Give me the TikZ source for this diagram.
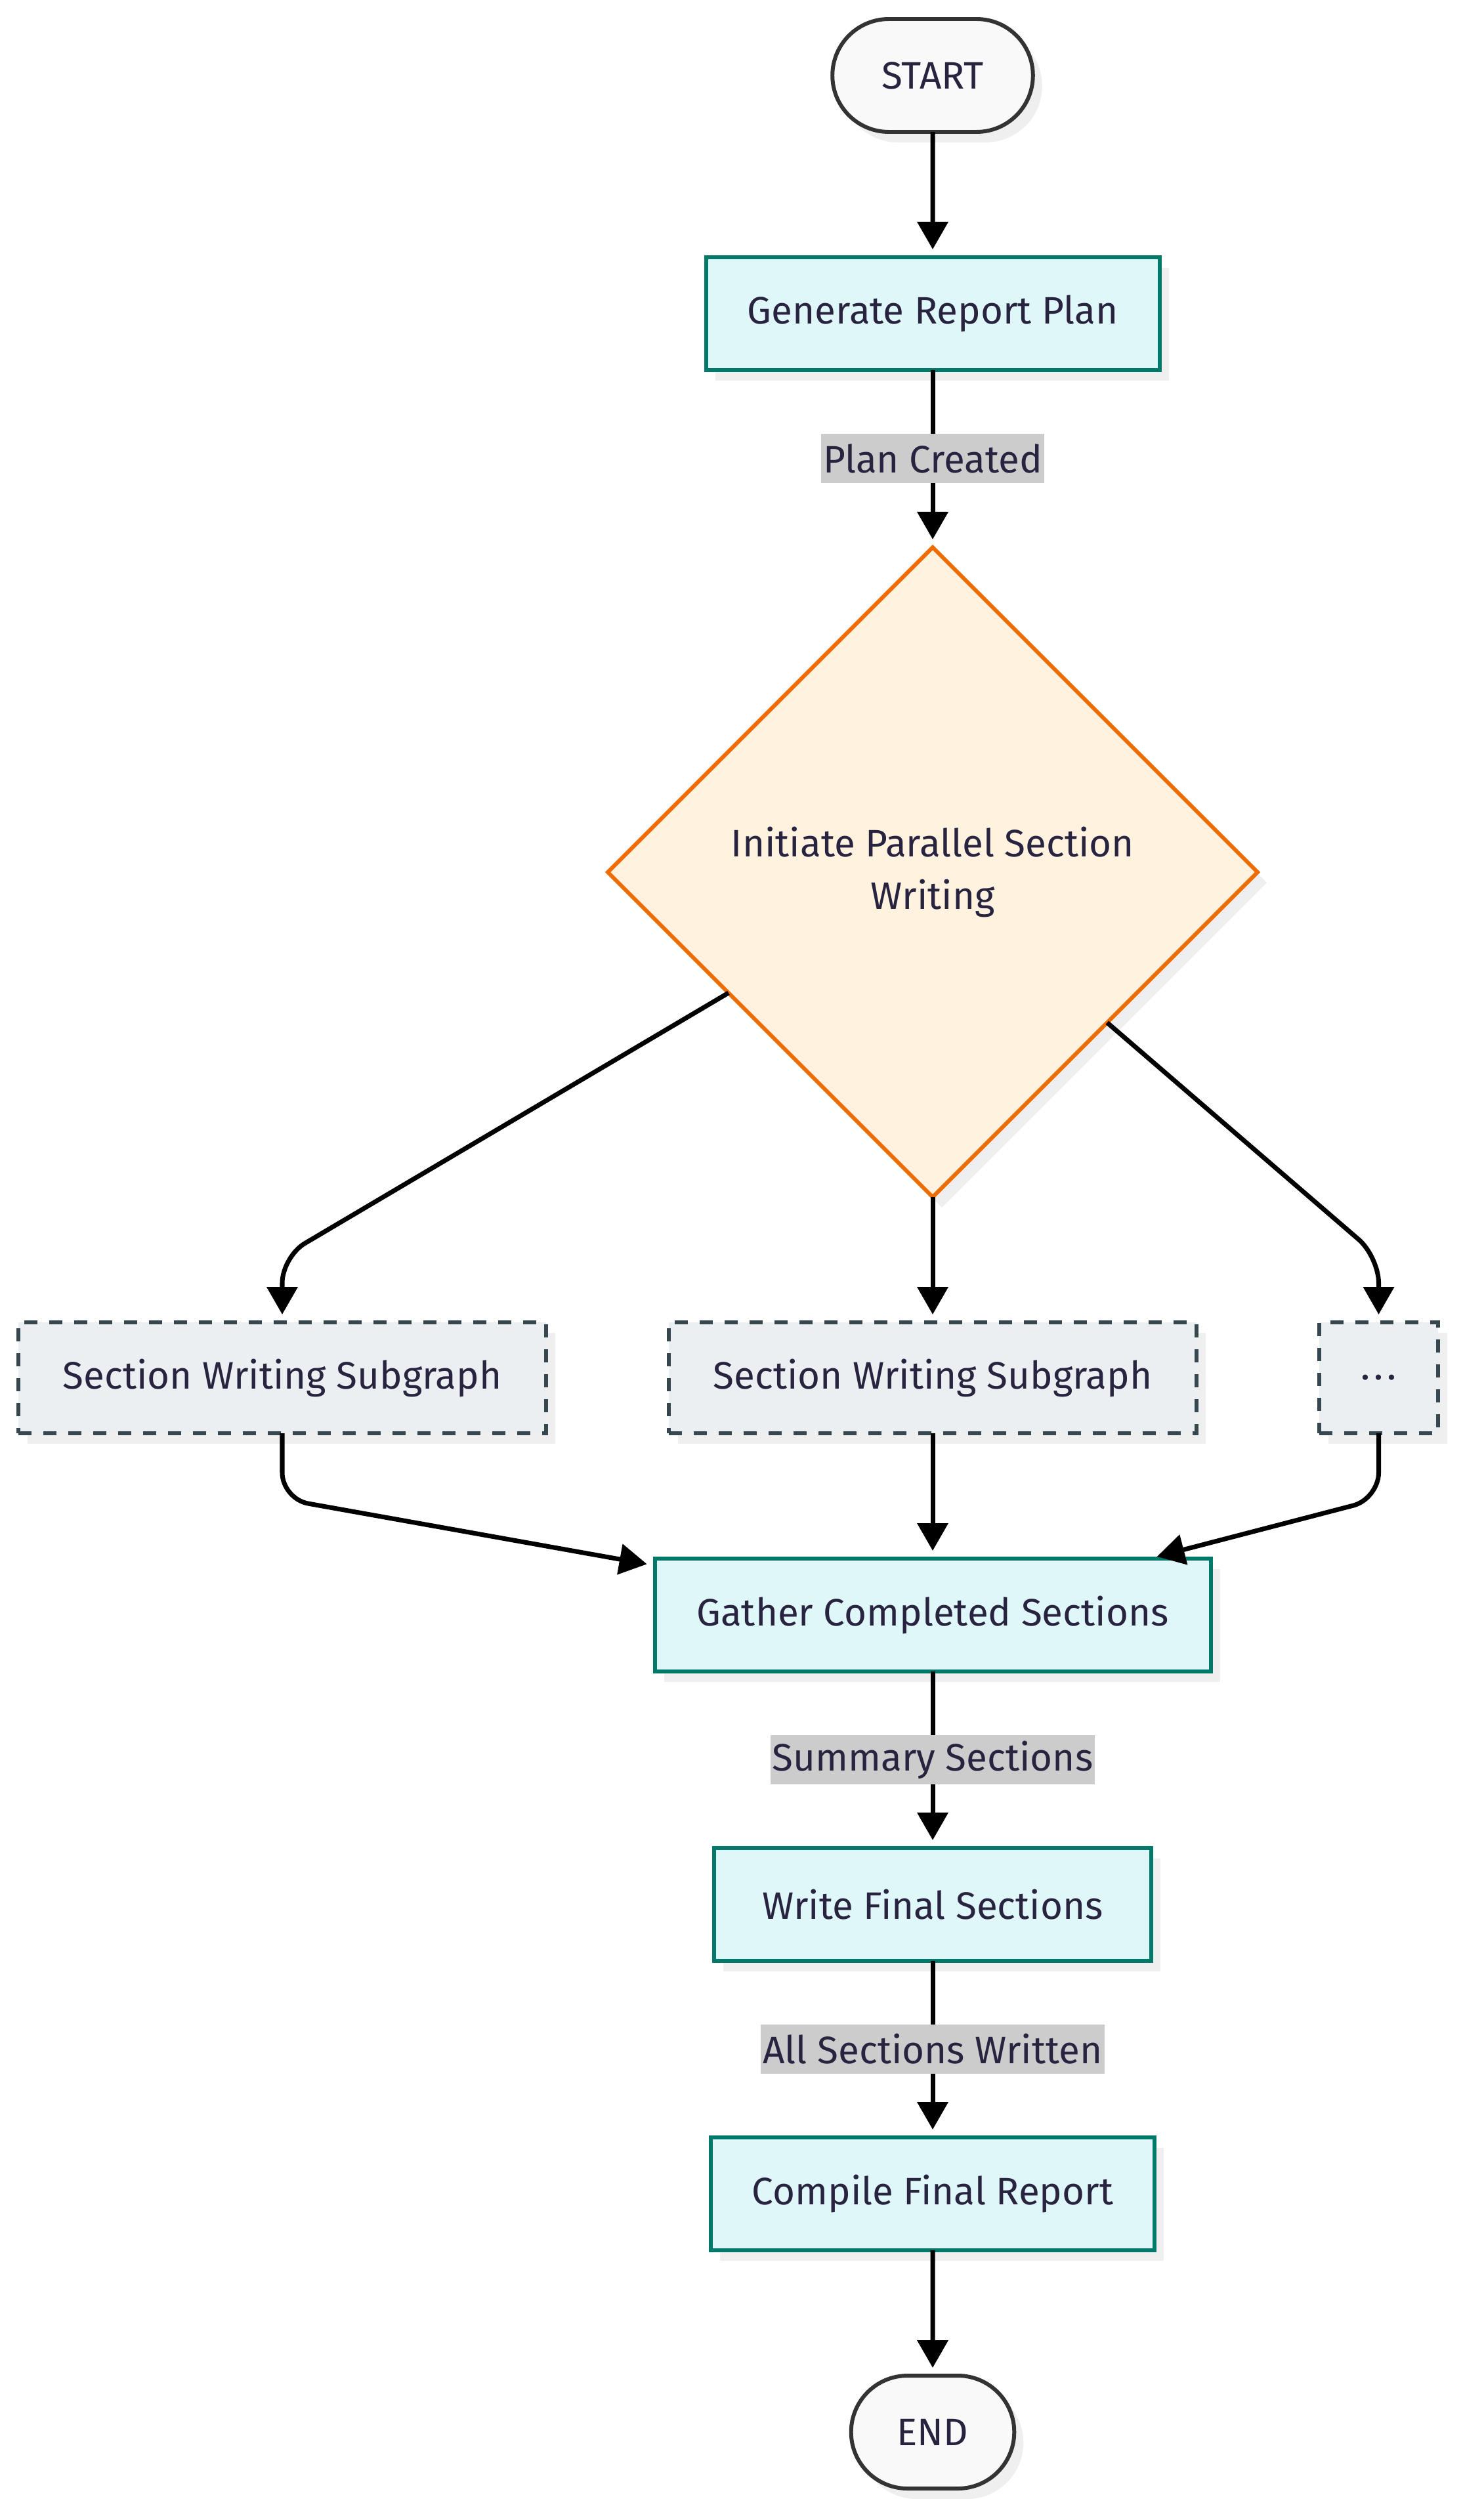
\documentclass[tikz,border=0pt]{standalone}
\usepackage{fontspec}
\setmainfont{Fira Sans}
\usepackage{tikz}
\usetikzlibrary{calc,positioning,shapes,shadows,arrows.meta}
\definecolor{ink}{HTML}{28233F}
\definecolor{termline}{HTML}{333333}
\definecolor{termfill}{HTML}{F9F9F9}
\definecolor{taskline}{HTML}{00796B}
\definecolor{taskfill}{HTML}{E0F7FA}
\definecolor{decline}{HTML}{EF6C00}
\definecolor{decfill}{HTML}{FFF3E0}
\definecolor{subline}{HTML}{37474F}
\definecolor{subfill}{HTML}{ECEFF1}
\definecolor{lblgray}{HTML}{CCCCCC}
\definecolor{shadowgray}{HTML}{EFEFEF}

\begin{document}
\begin{tikzpicture}[font=\fontsize{16.6}{23}\selectfont,text=ink,
		shadowed/.style={drop shadow={fill=shadowgray,opacity=1,shadow xshift=0.14cm,shadow yshift=-0.16cm}},
		term/.style={shape=rounded rectangle,draw=termline,fill=termfill,line width=1.7pt,outer sep=0pt,minimum height=1.72cm,shadowed},
		task/.style={shape=rectangle,draw=taskline,fill=taskfill,line width=1.7pt,outer sep=0pt,minimum height=1.72cm,shadowed},
		sub/.style={shape=rectangle,draw=subline,fill=subfill,line width=1.7pt,outer sep=0pt,dash pattern=on 0.2cm off 0.18cm,minimum height=1.69cm,shadowed},
		flow/.style={line width=2pt,-{Triangle[width=0.46cm,length=0.42cm]},shorten >=0.12cm},
		lbl/.style={fill=lblgray,inner xsep=0.03cm,inner ysep=0pt,minimum height=0.75cm}]
		\useasboundingbox (0,0) rectangle (22.29,-38.40);
		\node(start) at (14.21,-1.15) [term,minimum width=3.29cm] {START};
		\node(plan) [below=1.91 of start,task,minimum width=6.91cm] {Generate Report Plan};
		\node(init) [below=2.70 of plan,shape=diamond,draw=decline,fill=decfill,line width=1.7pt,outer sep=0pt,minimum width=9.9cm,minimum height=9.9cm,align=center,shadowed] {Initiate Parallel Section\\Writing};
		\node(s2) [below=1.91 of init,sub,minimum width=8.04cm] {Section Writing Subgraph};
		\node(s1) [left=1.87 of s2,sub,minimum width=8.04cm] {Section Writing Subgraph};
		\node(dots) [right=1.87 of s2,sub,minimum width=1.81cm] {.\hspace{0.1em}.\hspace{0.1em}.};
		\node(gather) [below=1.91 of s2,task,minimum width=8.47cm] {Gather Completed Sections};
		\node(write) [below=2.69 of gather,task,minimum width=6.66cm] {Write Final Sections};
		\node(compile) [below=2.69 of write,task,minimum width=6.76cm] {Compile Final Report};
		\node(stop) [below=1.91 of compile,term,minimum width=2.72cm] {END};
		\draw[flow] (start) -- (plan);
		\draw[flow] (plan) -- node[lbl] {Plan Created} (init);
		\draw[flow,rounded corners=0.4cm] (init) -- ($(s1.north)+(0,1)$) -- (s1);
		\draw[flow] (init) -- (s2);
		\draw[flow,rounded corners=0.4cm] (init) -- ($(dots.north)+(0,1)$) -- (dots);
		\draw[flow,rounded corners=0.4cm] (s1) -- ($(s1.south)+(0,-1)$) -- (gather);
		\draw[flow] (s2) -- (gather);
		\draw[flow,rounded corners=0.4cm] (dots) -- ($(dots.south)+(0,-1)$) -- (gather);
		\draw[flow] (gather) -- node[lbl] {Summary Sections} (write);
		\draw[flow] (write) -- node[lbl] {All Sections Written} (compile);
		\draw[flow] (compile) -- (stop);
	\end{tikzpicture}
\end{document}
